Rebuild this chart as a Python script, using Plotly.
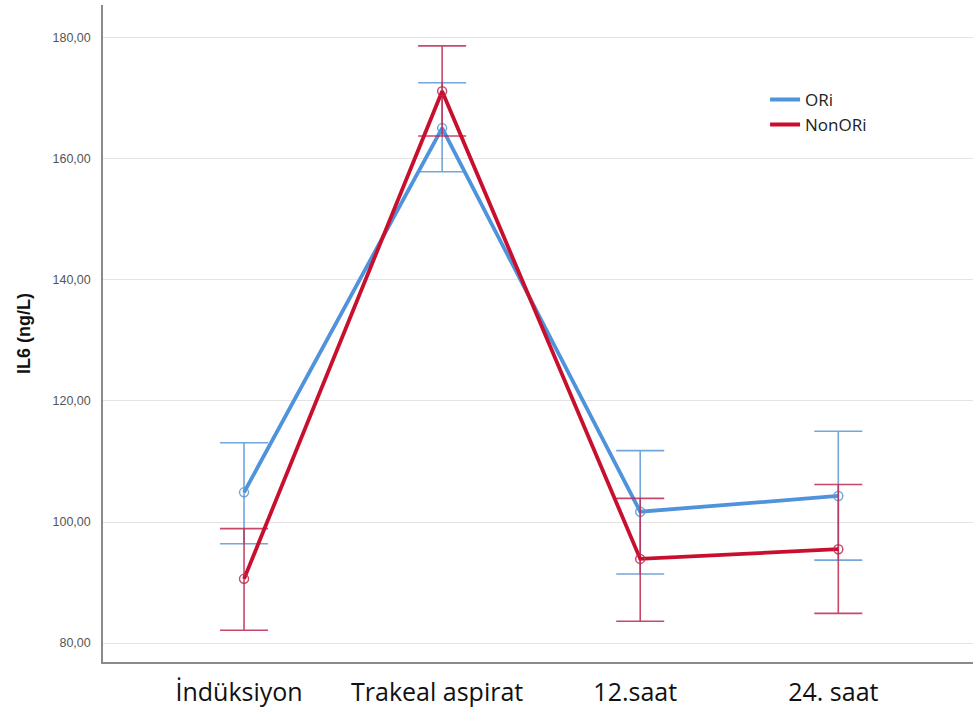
import plotly.graph_objects as go

# Time points and group means with error limits
timepoints = ["İndüksiyon", "Trakeal aspirat", "12.saat", "24. saat"]

ori_mean = [104.9, 165.1, 101.7, 104.3]
ori_upper = [113.1, 172.6, 111.8, 115.0]
ori_lower = [96.4, 157.9, 91.4, 93.7]

nonori_mean = [90.6, 171.2, 93.9, 95.5]
nonori_upper = [98.9, 178.7, 103.9, 106.2]
nonori_lower = [82.1, 163.8, 83.6, 84.9]

y_ticks = [80, 100, 120, 140, 160, 180]
y_tick_labels = ["80,00", "100,00", "120,00", "140,00", "160,00", "180,00"]

BLUE = "#4f93dc"
RED = "#c8102e"
BLUE_ERR = "rgba(91,150,210,0.85)"
RED_ERR = "rgba(190,40,80,0.85)"


def group_trace(name, mean, upper, lower, line_color, err_color):
    return go.Scatter(
        x=list(range(len(timepoints))),
        y=mean,
        name=name,
        mode="lines+markers",
        showlegend=False,
        line=dict(color=line_color, width=3.8),
        marker=dict(symbol="circle-open", size=9, color=err_color,
                    line=dict(width=1.5)),
        error_y=dict(
            type="data",
            symmetric=False,
            array=[u - m for u, m in zip(upper, mean)],
            arrayminus=[m - l for m, l in zip(mean, lower)],
            color=err_color,
            thickness=1.6,
            width=24,
        ),
    )


def legend_entry(name, color):
    # line-only key for the legend
    return go.Scatter(x=[None], y=[None], name=name, mode="lines",
                      line=dict(color=color, width=4), showlegend=True)


fig = go.Figure()
fig.add_trace(group_trace("ORi", ori_mean, ori_upper, ori_lower, BLUE, BLUE_ERR))
fig.add_trace(group_trace("NonORi", nonori_mean, nonori_upper, nonori_lower, RED, RED_ERR))
fig.add_trace(legend_entry("ORi", BLUE))
fig.add_trace(legend_entry("NonORi", RED))

fig.update_layout(
    width=973,
    height=709,
    margin=dict(l=103, r=0, t=5, b=47),
    paper_bgcolor="white",
    plot_bgcolor="white",
    showlegend=True,
    legend=dict(
        x=0.761, y=0.883, xanchor="left", yanchor="top",
        bgcolor="rgba(0,0,0,0)",
        font=dict(family="'Open Sans', Lato, sans-serif", size=17, color="#222"),
        tracegroupgap=0, itemwidth=30,
    ),
    xaxis=dict(
        range=[-0.712, 3.68],
        tickmode="array",
        tickvals=list(range(len(timepoints))),
        ticktext=timepoints,
        ticks="outside", ticklen=7, tickcolor="rgba(0,0,0,0)",
        ticklabelshift=-5,
        tickfont=dict(family="'Open Sans', Lato, sans-serif", size=25, color="#111"),
        automargin=False,
        showgrid=False,
        showline=True, linecolor="#8a8a8a", linewidth=1.5,
        zeroline=False,
    ),
    yaxis=dict(
        range=[76.86, 185.45],
        tickmode="array",
        tickvals=y_ticks,
        ticktext=y_tick_labels,
        ticks="outside", ticklen=8, tickcolor="rgba(0,0,0,0)",
        tickfont=dict(family="Liberation Sans, Arial, sans-serif", size=12.5, color="#555"),
        automargin=False,
        showgrid=True, gridcolor="#e3e3e3", gridwidth=1,
        showline=True, linecolor="#8a8a8a", linewidth=1.5,
        zeroline=False,
        title=dict(text="<b>IL6 (ng/L)</b>",
                   font=dict(family="Liberation Sans, Arial, sans-serif", size=18, color="#111"),
                   standoff=17),
    ),
)

fig.write_html("out.html")
